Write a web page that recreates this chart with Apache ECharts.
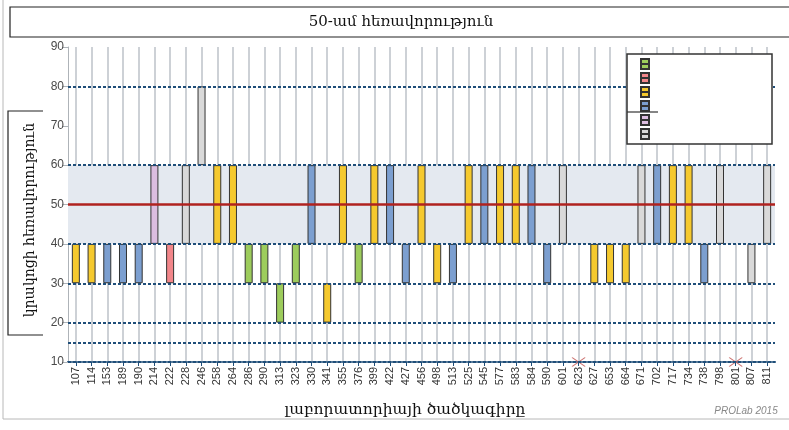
<!DOCTYPE html>
<html>
<head>
<meta charset="utf-8">
<script src="https://cdn.jsdelivr.net/npm/echarts@6/dist/echarts.min.js"></script>
<style>
  html, body { margin: 0; padding: 0; background: #fff; }
  #chart { width: 789px; height: 430px; }
</style>
</head>
<body>
<div id="chart"></div>
<script>
// lab codes on the x axis
const categories = ['107','114','153','189','190','214','222','228','246','258','264','286','290','313','323',
  '330','341','355','376','399','422','427','456','498','513','525','545','577','583','584','590','601','623',
  '627','653','664','671','702','717','734','738','798','801','807','811'];

// each lab's range: from low to high
const lowValues = [30,30,30,30,30,40,30,40,60,40,40,30,30,20,30,
  40,20,40,30,40,40,30,40,30,30,40,40,40,40,40,30,40,null,
  30,30,30,40,40,40,40,30,40,null,30,40];
const highValues = [40,40,40,40,40,60,40,60,80,60,60,40,40,30,40,
  60,30,60,40,60,60,40,60,40,40,60,60,60,60,60,40,60,null,
  40,40,40,60,60,60,60,40,60,null,40,60];
const groups = ['yellow','yellow','blue','blue','blue','pink','red','grey','grey','yellow','yellow','green','green','green','green',
  'blue','yellow','yellow','green','yellow','blue','blue','yellow','yellow','blue','yellow','blue','yellow','yellow','blue','blue','grey',null,
  'yellow','yellow','yellow','grey','blue','yellow','yellow','blue','grey',null,'grey','grey'];

// labs with no result, marked with a cross
const missingCodes = ['623','801'];
const missingLevel = 10;

const targetValue = 50;
const bandRange = [40, 60];
const dottedLevels = [10, 15, 20, 30, 40, 60, 80];

const legendOrder = ['green','red','yellow','blue','pink','grey'];
const palette = {
  green: '#9dcc5c', red: '#f2868a', yellow: '#f5c92e',
  blue: '#7c9fd0', pink: '#dcbde0', grey: '#d9d9d9'
};

const chart = echarts.init(document.getElementById('chart'));

const groupSeries = legendOrder.map(key => ({
  name: key,
  type: 'bar',
  stack: 'range',
  barWidth: 8,
  z: 3,
  itemStyle: { color: palette[key], borderColor: '#333', borderWidth: 1 },
  data: groups.map((g, i) => g === key ? highValues[i] - lowValues[i] : null)
}));

const option = {
  animation: false,
  textStyle: { fontFamily: 'Arial, "Liberation Sans", sans-serif' },
  grid: { left: 68, right: 14, top: 47, bottom: 68 },
  legend: {
    data: legendOrder,
    orient: 'vertical',
    left: 627,
    top: 54,
    icon: 'path://M0,0L8,0L8,10L0,10Z M0,5L8,5',
    itemWidth: 8,
    itemHeight: 10,
    itemGap: 2,
    padding: [4, 118, 4, 13],
    formatter: () => '',
    textStyle: { fontSize: 6, lineHeight: 10 },
    backgroundColor: '#fff',
    borderColor: '#333',
    borderWidth: 1.5,
    borderRadius: 0,
    selectedMode: false,
    z: 10
  },
  xAxis: {
    type: 'category',
    data: categories,
    boundaryGap: true,
    axisLine: { show: true, lineStyle: { color: '#1f4e79', width: 2, type: [3, 2] } },
    axisTick: { show: true, alignWithLabel: true, length: 4, lineStyle: { color: '#1f4e79' } },
    axisLabel: { interval: 0, rotate: 90, fontSize: 11, color: '#333', margin: 5 },
    splitLine: { show: true, interval: 0, alignWithLabel: true, lineStyle: { color: '#cdd1d6', width: 2 } }
  },
  yAxis: {
    type: 'value',
    min: 10,
    max: 90,
    interval: 10,
    axisLine: { show: true, lineStyle: { color: '#aeb3b8', width: 1 } },
    axisTick: { show: true, length: 6, lineStyle: { color: '#aeb3b8' } },
    axisLabel: { fontSize: 12, color: '#4a4a4a', margin: 4 },
    splitLine: { show: false }
  },
  series: [
    {
      name: 'base',
      type: 'bar',
      stack: 'range',
      barWidth: 8,
      z: 1,
      itemStyle: { color: 'transparent' },
      data: lowValues,
      silent: true,
      markArea: {
        silent: true,
        itemStyle: { color: '#e4e9f0' },
        data: [[{ yAxis: bandRange[0] }, { yAxis: bandRange[1] }]]
      },
      markLine: {
        silent: true,
        symbol: 'none',
        label: { show: false },
        data: dottedLevels.map(v => ({
          yAxis: v,
          lineStyle: { color: '#1f4e79', width: 2, type: [3, 2] }
        })).concat([{
          yAxis: targetValue,
          lineStyle: { color: '#b0221f', width: 2.5, type: 'solid' }
        }])
      }
    },
    ...groupSeries,
    {
      name: 'missing',
      type: 'scatter',
      z: 4,
      symbol: 'path://M0,0L10,10M10,0L0,10',
      symbolSize: [13, 9],
      itemStyle: { color: 'none', borderColor: '#c0504d', borderWidth: 1.2 },
      data: missingCodes.map(c => [c, missingLevel])
    }
  ],
  graphic: [
    { type: 'line', shape: { x1: 3, y1: 0, x2: 3, y2: 419 }, style: { stroke: '#b8b8b8', lineWidth: 1 } },
    { type: 'line', shape: { x1: 3, y1: 419, x2: 789, y2: 419 }, style: { stroke: '#b8b8b8', lineWidth: 1 } },
    {
      type: 'rect',
      shape: { x: 10, y: 7, width: 790, height: 30 },
      style: { fill: '#fff', stroke: '#222', lineWidth: 1.2 }
    },
    {
      type: 'text',
      x: 401,
      y: 22,
      style: {
        text: '50-ամ հեռավորություն',
        font: '15px "DejaVu Serif", serif',
        fill: '#111',
        align: 'center',
        verticalAlign: 'middle'
      }
    },
    {
      type: 'polyline',
      shape: { points: [[43, 111], [8, 111], [8, 335], [43, 335]] },
      style: { stroke: '#222', lineWidth: 1.2, fill: 'none' }
    },
    {
      type: 'text',
      x: 30,
      y: 220,
      rotation: Math.PI / 2,
      style: {
        text: 'կրակոցի հեռավորություն',
        font: '14px "DejaVu Serif", serif',
        fill: '#111',
        align: 'center',
        verticalAlign: 'middle'
      }
    },
    {
      type: 'line',
      shape: { x1: 627, y1: 112, x2: 658, y2: 112 },
      style: { stroke: '#333', lineWidth: 1.2 },
      z: 20
    },
    {
      type: 'text',
      x: 405,
      y: 410,
      style: {
        text: 'լաբորատորիայի ծածկագիրը',
        font: '15.5px "DejaVu Serif", serif',
        fill: '#111',
        align: 'center',
        verticalAlign: 'middle'
      }
    },
    {
      type: 'text',
      x: 746,
      y: 411,
      style: {
        text: 'PROLab 2015',
        font: 'italic 10px Arial, sans-serif',
        fill: '#888',
        align: 'center',
        verticalAlign: 'middle'
      }
    }
  ]
};

chart.setOption(option);
</script>
</body>
</html>
